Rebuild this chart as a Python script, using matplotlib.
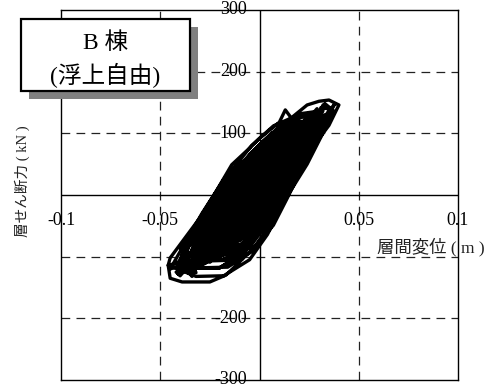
import matplotlib
matplotlib.use('Agg')
import matplotlib.pyplot as plt
from matplotlib.patches import Rectangle

drift = [
    0.000, -0.005, -0.010, -0.014,
    -0.017, -0.016, -0.014, -0.010, -0.007, -0.004, -0.001, 0.004, 0.008, 0.006, 0.003, 0.000, -0.003, -0.006, -0.010, -0.014,
    -0.018, -0.017, -0.014, -0.010, -0.007, -0.003, 0.001, 0.007, 0.011, 0.009, 0.006, 0.002, -0.002, -0.005, -0.010, -0.015,
    -0.019, -0.018, -0.015, -0.010, -0.006, -0.002, 0.003, 0.009, 0.014, 0.012, 0.008, 0.004, 0.000, -0.004, -0.009, -0.015,
    -0.019, -0.018, -0.014, -0.009, -0.005, 0.000, 0.005, 0.013, 0.018, 0.016, 0.012, 0.007, 0.002, -0.002, -0.008, -0.015,
    -0.022, -0.021, -0.017, -0.011, -0.006, -0.001, 0.005, 0.013, 0.019, 0.017, 0.012, 0.007, 0.002, -0.003, -0.010, -0.017,
    -0.028, -0.027, -0.023, -0.017, -0.012, -0.007, -0.001, 0.007, 0.013, 0.011, 0.006, 0.000, -0.004, -0.009, -0.016, -0.023,
    -0.029, -0.028, -0.023, -0.017, -0.011, -0.006, 0.001, 0.010, 0.016, 0.014, 0.008, 0.002, -0.003, -0.008, -0.016, -0.024,
    -0.030, -0.029, -0.023, -0.017, -0.011, -0.005, 0.002, 0.012, 0.019, 0.017, 0.011, 0.004, -0.002, -0.007, -0.016, -0.024,
    -0.024, -0.023, -0.017, -0.011, -0.005, 0.001, 0.008, 0.018, 0.025, 0.023, 0.017, 0.010, 0.004, -0.001, -0.010, -0.018,
    -0.031, -0.030, -0.024, -0.017, -0.010, -0.004, 0.004, 0.015, 0.022, 0.020, 0.013, 0.006, 0.000, -0.006, -0.015, -0.025,
    -0.029, -0.028, -0.021, -0.014, -0.007, 0.000, 0.009, 0.020, 0.028, 0.026, 0.019, 0.011, 0.004, -0.002, -0.012, -0.022,
    -0.032, -0.031, -0.024, -0.017, -0.010, -0.003, 0.006, 0.017, 0.025, 0.023, 0.016, 0.008, 0.001, -0.005, -0.015, -0.025,
    -0.032, -0.031, -0.024, -0.016, -0.008, 0.000, 0.009, 0.021, 0.030, 0.027, 0.019, 0.011, 0.003, -0.004, -0.014, -0.025,
    -0.035, -0.033, -0.026, -0.017, -0.009, -0.001, 0.008, 0.021, 0.031, 0.027, 0.019, 0.011, 0.003, -0.005, -0.016, -0.027,
    -0.037, -0.035, -0.028, -0.019, -0.011, -0.003, 0.006, 0.019, 0.029, 0.025, 0.017, 0.009, 0.001, -0.007, -0.018, -0.029,
    -0.040, -0.038, -0.031, -0.021, -0.013, -0.004, 0.006, 0.020, 0.030, 0.026, 0.018, 0.008, 0.000, -0.008, -0.020, -0.032,
    -0.042, -0.038, -0.035, -0.032, -0.040, -0.032, -0.022, -0.013, -0.004, 0.007, 0.021, 0.032, 0.028, 0.019, 0.009, 0.000, -0.008, -0.020, -0.033,
    -0.038, -0.036, -0.028, -0.018, -0.009, 0.000, 0.011, 0.025, 0.030, 0.032, 0.035, 0.036, 0.032, 0.023, 0.013, 0.004, -0.004, -0.016, -0.029,
    -0.041, -0.039, -0.031, -0.020, -0.011, -0.001, 0.010, 0.026, 0.029, 0.031, 0.037, 0.033, 0.024, 0.013, 0.004, -0.005, -0.018, -0.032,
    -0.046, -0.045, -0.039, -0.030, -0.022, -0.014, -0.005, 0.000, 0.010, 0.013, 0.016, 0.024, 0.030, 0.035, 0.040, 0.035, 0.025, 0.019, 0.014, 0.007, 0.002, -0.005, -0.012, -0.017, -0.025, -0.039, -0.045, -0.046,
    -0.041, -0.027, -0.015, 0.006, -0.005, -0.017, -0.036,
    -0.039, -0.041, -0.037, -0.034, -0.023, -0.011, 0.013, -0.001, -0.013, -0.034,
    -0.031, -0.019, -0.007, 0.019, 0.003, -0.009, -0.026,
    -0.030, -0.015, -0.003, 0.025, 0.007, -0.005, -0.025,
    -0.022, -0.011, 0.001, 0.030, 0.033, 0.036, 0.011, -0.001, -0.017,
    -0.015, -0.007, 0.005, 0.033, 0.015, 0.003, -0.010,
    -0.010, -0.004, 0.008, 0.035, 0.018, 0.006, -0.005,
    -0.042, -0.040, -0.037, -0.034, -0.025, -0.013, 0.007, -0.003, -0.015, -0.037,
    -0.034, -0.021, -0.009, 0.016, 0.001, -0.011, -0.029,
    -0.023, -0.013, -0.001, 0.029, 0.009, -0.003, -0.018,
    -0.021, -0.009, 0.003, 0.029, 0.013, 0.001, -0.016,
    -0.033, -0.036, -0.030, -0.017, -0.005, 0.018, 0.005, -0.007, -0.028,
    -0.014, -0.005, 0.007, 0.034, 0.038, 0.017, 0.005, -0.009,
    -0.045, -0.029, -0.017, 0.001, -0.007, -0.019, -0.040,
    -0.040, -0.038, -0.031, -0.021, -0.013, -0.004, 0.006, 0.020, 0.030, 0.026, 0.018, 0.008, 0.000, -0.008, -0.020, -0.032,
    -0.029, -0.028, -0.021, -0.014, -0.007, 0.000, 0.009, 0.020, 0.028, 0.026, 0.019, 0.011, 0.004, -0.002, -0.012, -0.022,
    -0.017, -0.016, -0.014, -0.010, -0.007, -0.004, -0.001, 0.004, 0.008, 0.006, 0.003, 0.000,
]
shear = [
    0, -12, -25, -34,
    -34, -26, -15, 1, 17, 29, 40, 46, 48, 38, 20, 2, -16, -29, -37, -37,
    -39, -30, -17, 2, 21, 35, 47, 55, 57, 46, 25, 3, -18, -33, -42, -42,
    -43, -33, -18, 3, 25, 41, 55, 64, 66, 53, 29, 5, -19, -36, -47, -48,
    -52, -41, -24, 0, 25, 43, 58, 68, 71, 56, 29, 2, -25, -44, -56, -57,
    -55, -42, -23, 3, 31, 51, 68, 79, 82, 66, 36, 6, -25, -46, -60, -60,
    -67, -54, -35, -9, 19, 39, 56, 67, 70, 54, 24, -7, -37, -58, -72, -72,
    -71, -57, -37, -8, 22, 44, 64, 76, 79, 61, 28, -5, -38, -62, -77, -77,
    -76, -61, -38, -7, 26, 50, 71, 84, 88, 68, 32, -4, -40, -66, -82, -82,
    -64, -49, -26, 5, 38, 62, 83, 96, 100, 80, 44, 8, -28, -54, -70, -70,
    -73, -57, -33, 1, 37, 63, 86, 100, 104, 83, 44, 5, -34, -62, -80, -81,
    -79, -62, -35, 1, 40, 68, 92, 108, 112, 89, 47, 5, -37, -67, -86, -87,
    -85, -68, -41, -5, 34, 62, 86, 102, 106, 83, 41, -1, -43, -73, -92, -93,
    -89, -70, -42, -3, 39, 69, 95, 112, 116, 91, 46, 1, -44, -76, -96, -97,
    -98, -78, -48, -6, 38, 70, 98, 115, 120, 94, 46, -2, -50, -85, -106, -107,
    -96, -76, -46, -4, 40, 72, 100, 117, 122, 96, 48, 0, -48, -83, -104, -105,
    -109, -88, -56, -11, 35, 69, 99, 118, 123, 95, 44, -7, -58, -95, -118, -118,
    -109, -122, -112, -126, -86, -52, -5, 44, 80, 112, 132, 137, 107, 53, -1, -55, -93, -118, -119,
    -108, -85, -51, -4, 45, 81, 113, 133, 128, 146, 140, 138, 108, 54, 0, -54, -92, -117, -118,
    -121, -98, -62, -12, 40, 78, 111, 132, 126, 142, 138, 107, 50, -7, -64, -105, -131, -132,
    -114, -102, -76, -37, 5, 49, 76, 92, 118, 138, 125, 146, 152, 154, 146, 113, 70, 28, -5, -49, -68, -92, -115, -130, -141, -141, -135, -114,
    -110, -30, 30, 95, 30, -30, -104,
    -120, -128, -117, -129, -30, 30, 110, 30, -30, -114,
    -100, -30, 30, 120, 30, -30, -94,
    -115, -30, 30, 130, 30, -30, -109,
    -95, -30, 30, 135, 148, 140, 30, -30, -89,
    -80, -30, 30, 130, 30, -30, -74,
    -70, -30, 30, 125, 30, -30, -64,
    -125, -131, -120, -132, -30, 30, 90, 30, -30, -119,
    -105, -30, 30, 115, 30, -30, -99,
    -90, -30, 30, 140, 30, -30, -84,
    -100, -30, 30, 120, 30, -30, -94,
    -118, -126, -112, -30, 30, 105, 30, -30, -112,
    -85, -30, 30, 132, 148, 30, -30, -79,
    -120, -30, 30, 80, 30, -30, -114,
    -109, -88, -56, -11, 35, 69, 99, 118, 123, 95, 44, -7, -58, -95, -118, -118,
    -79, -62, -35, 1, 40, 68, 92, 108, 112, 89, 47, 5, -37, -67, -86, -87,
    -34, -26, -15, 1, 17, 29, 40, 46, 48, 38, 20, 2,
]

x_ticks = [-0.1, -0.05, 0, 0.05, 0.1]
x_tick_labels = ['-0.1', '-0.05', '0', '0.05', '0.1']
y_ticks = [300, 200, 100, 0, -100, -200, -300]
grid_x = [-0.05, 0.05]
grid_y = [-200, -100, 100, 200]

serif_jp = ['Liberation Serif', 'Noto Sans CJK JP']

fig = plt.figure(figsize=(4.88, 3.90), dpi=100)
ax = fig.add_axes([61/488, 10/390, 397/488, 370/390])
ax.set_xlim(-0.1, 0.1)
ax.set_ylim(-300, 300)
ax.set_xticks([])
ax.set_yticks([])
for s in ax.spines.values():
    s.set_linewidth(1.0)
    s.set_color('black')

# dashed grid and solid zero axes
for gx in grid_x:
    ax.axvline(gx, color='#222222', lw=0.9, ls=(0, (7, 5)), zorder=1)
for gy in grid_y:
    ax.axhline(gy, color='#222222', lw=0.9, ls=(0, (7, 5)), zorder=1)
ax.axhline(0, color='black', lw=1.0, zorder=1)
ax.axvline(0, color='black', lw=1.0, zorder=1)

# tick labels sit on the crossing axes
for v in y_ticks:
    ax.text(-0.0065, v, str(v), ha='right', va='center', fontsize=13,
            family='Liberation Serif', clip_on=False, zorder=2)
for v, lab in zip(x_ticks, x_tick_labels):
    ax.text(v, -42, lab, ha='center', va='center', fontsize=13,
            family='Liberation Serif', clip_on=False, zorder=2)

ax.plot(drift, shear, color='black', lw=2.4, solid_joinstyle='round', zorder=3)

fig.text(0.994, 1 - 247/390, '層間変位 ( m )', ha='right', va='center',
         fontsize=12.5, family=serif_jp, color='#222222')
fig.text(0.045, 1 - 181/390, '層せん断力 ( kN )', ha='center', va='center',
         rotation=90, fontsize=10.5, family=serif_jp, color='#222222')

# label box with drop shadow
bx, by, bw, bh = 21/488, 1 - 91/390, 169/488, 72/390
fig.patches.append(Rectangle((bx + 8/488, by - 8/390), bw, bh, transform=fig.transFigure,
                             facecolor='#808080', edgecolor='none', zorder=5))
fig.patches.append(Rectangle((bx, by), bw, bh, transform=fig.transFigure,
                             facecolor='white', edgecolor='black', lw=1.6, zorder=6))
fig.text(bx + bw/2, 1 - 43/390, 'B 棟', ha='center', va='center', fontsize=17,
         family=serif_jp, zorder=7)
fig.text(bx + bw/2, 1 - 75/390, '(浮上自由)', ha='center', va='center', fontsize=17,
         family=serif_jp, zorder=7)

fig.savefig('out.png', dpi=100)
